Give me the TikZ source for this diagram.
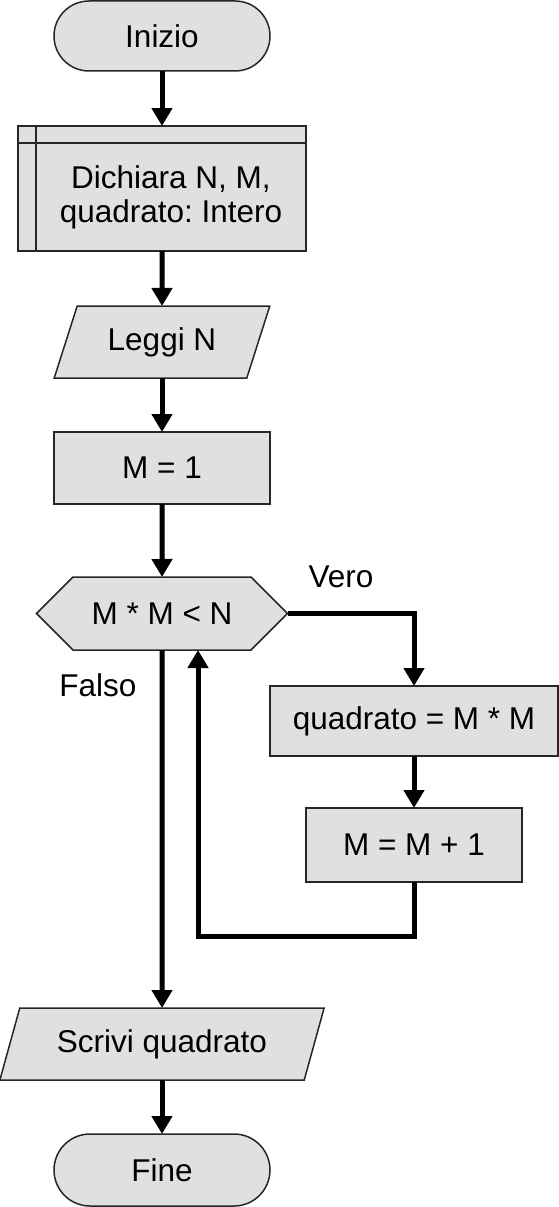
\documentclass[tikz,border=0pt]{standalone}
\usepackage{fontspec}
\setmainfont{Liberation Sans}
\usetikzlibrary{arrows.meta,shapes.geometric,shapes.misc,shapes.symbols}
\definecolor{boxgray}{HTML}{E0E0E0}
\frenchspacing
\begin{document}
\begin{tikzpicture}[x=1pt,y=-1pt,
 box/.style={draw=black!85, line width=1.5pt, fill=boxgray, outer sep=0pt, inner sep=0pt, font=\fontsize{31.5}{34}\selectfont},
 term/.style={box, rounded rectangle, minimum width=216pt, minimum height=70pt},
 proc/.style={box, rectangle, minimum width=216pt, minimum height=72pt},
 io/.style={box, trapezium, trapezium left angle=63.4, trapezium right angle=116.6, trapezium stretches=true, minimum height=72pt},
 dec/.style={box, signal, signal to=west and east, signal pointer angle=90, minimum width=251pt, minimum height=73pt},
 conn/.style={line width=5pt, -{Triangle[width=20pt,length=18pt]}},
 lbl/.style={font=\fontsize{31.5}{34}\selectfont, inner sep=0pt}]
\useasboundingbox (0,0) rectangle (559,1207);

\node[term] (inizio) at (162,36) {Inizio};
\node[box, rectangle, minimum width=288pt, minimum height=125pt] (decl) at (162,188.5) {};
\draw[black!85, line width=1.5pt] ([xshift=18pt]decl.north west) -- ([xshift=18pt]decl.south west);
\draw[black!85, line width=1.5pt] ([yshift=-17pt]decl.north west) -- ([yshift=-17pt]decl.north east);
\node[lbl, align=center] (decltext) at (171,197) {Dichiara N, M,\\quadrato: Intero};
\node[io, minimum width=216pt] (leggi) at (162,342) {Leggi N};
\node[proc] (m1) at (162,468) {M = 1};
\node[dec] (cond) at (162,613.5) {M * M < N};
\node[proc, minimum width=288pt, minimum height=70pt] (quad) at (414,721) {quadrato = M * M};
\node[proc, minimum height=74pt] (inc) at (414,845) {M = M + 1};
\node[io, minimum width=325pt] (scrivi) at (162,1044) {Scrivi quadrato};
\node[term, minimum height=72pt] (fine) at (162,1170) {Fine};
\node[lbl] (vero) at (341,577) {Vero};
\node[lbl] (falso) at (98,685) {Falso};
\coordinate (loop) at (198,936);

\draw[conn] (inizio) -- (decl);
\draw[conn] (decl) -- (leggi);
\draw[conn] (leggi) -- (m1);
\draw[conn] (m1) -- (cond);
\draw[conn] (cond.east) -| (quad.north);
\draw[conn] (quad) -- (inc);
\draw[conn] (inc.south) |- (loop) -- (loop |- cond.south);
\draw[conn] (cond.south) -- (scrivi.north);
\draw[conn] (scrivi) -- (fine);
\end{tikzpicture}
\end{document}
